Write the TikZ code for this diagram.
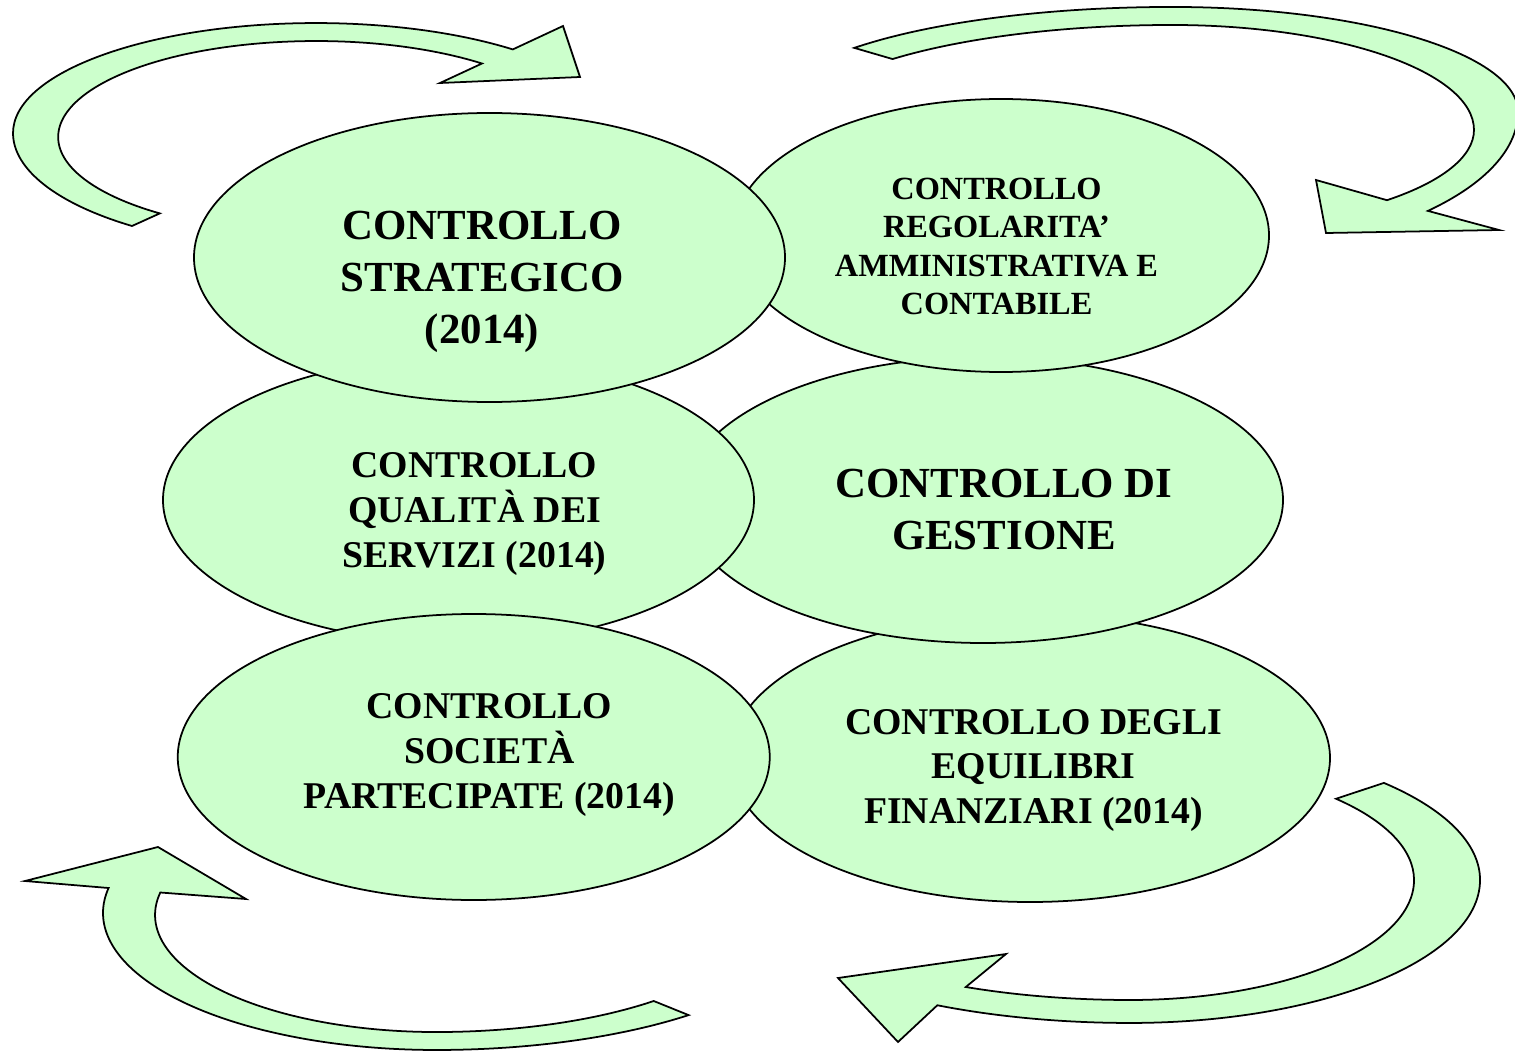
\documentclass[tikz,border=0pt]{standalone}
\usepackage{fontspec}
\setmainfont{Liberation Serif}
\definecolor{verdino}{HTML}{CCFFCC}
\tikzset{
  bolla/.style={fill=verdino,draw=black,line width=0.5pt},
  freccia/.style={fill=verdino,draw=black,line width=0.5pt},
  testo/.style={align=center,inner sep=0pt},
  grande/.style={font=\bfseries\fontsize{12.2}{14.8}\selectfont},
  medio/.style={font=\bfseries\fontsize{10.75}{12.8}\selectfont},
  piccolo/.style={font=\bfseries\fontsize{9.2}{10.95}\selectfont}
}
\begin{document}
\begin{tikzpicture}
\useasboundingbox (0,0) rectangle (15.15,-10.51);

% frecce
\filldraw[freccia] (1.32,-2.26) arc[start angle=232.6,end angle=180,x radius=3.03,y radius=1.17]
  arc[start angle=180,end angle=49.5,x radius=3.03,y radius=1.10]
  -- (5.63,-0.26) -- (5.80,-0.77) -- (4.40,-0.83) -- (4.82,-0.635)
  arc[start angle=50,end angle=232.7,x radius=2.58,y radius=0.96] -- cycle;

\filldraw[freccia] (8.543,-0.479) arc[start angle=142.4,end angle=90,x radius=4.01,y radius=1.05]
  arc[start angle=90,end angle=0,x radius=3.46,y radius=1.05]
  arc[start angle=0,end angle=-42.3,x radius=3.46,y radius=1.47]
  -- (14.99,-2.30) -- (13.26,-2.33) -- (13.16,-1.80) -- (13.87,-2.002)
  arc[start angle=-44.6,end angle=0,x radius=3.02,y radius=1.00]
  arc[start angle=0,end angle=90,x radius=3.02,y radius=1.05]
  arc[start angle=90,end angle=137.5,x radius=3.79,y radius=1.05] -- cycle;

\filldraw[freccia] (13.839,-7.829) arc[start angle=43.5,end angle=0,x radius=3.50,y radius=1.41]
  arc[start angle=0,end angle=-90,x radius=3.50,y radius=1.43]
  arc[start angle=-90,end angle=-118.8,x radius=4.00,y radius=1.43]
  -- (8.98,-10.42) -- (8.38,-9.78) -- (10.06,-9.54) -- (9.658,-9.870)
  arc[start angle=-116.9,end angle=-90,x radius=3.63,y radius=1.20]
  arc[start angle=-90,end angle=0,x radius=2.84,y radius=1.20]
  arc[start angle=0,end angle=43.5,x radius=2.84,y radius=1.18] -- cycle;

\filldraw[freccia] (6.886,-10.151) arc[start angle=-48.2,end angle=-90,x radius=3.79,y radius=1.37]
  arc[start angle=-90,end angle=-190.5,x radius=3.33,y radius=1.37]
  -- (0.25,-8.81) -- (1.58,-8.47) -- (2.46,-8.99) -- (1.603,-8.925)
  arc[start angle=-191.1,end angle=-90,x radius=2.81,y radius=1.17]
  arc[start angle=-90,end angle=-47.3,x radius=3.21,y radius=1.17] -- cycle;

% ellissi
\filldraw[bolla] (10.30,-7.58) ellipse[x radius=3.00,y radius=1.44];
\filldraw[bolla] (9.83,-5.00) ellipse[x radius=3.00,y radius=1.43];
\filldraw[bolla] (10.01,-2.355) ellipse[x radius=2.68,y radius=1.365];
\filldraw[bolla] (4.585,-5.00) ellipse[x radius=2.955,y radius=1.43];
\filldraw[bolla] (4.895,-2.575) ellipse[x radius=2.955,y radius=1.445];
\filldraw[bolla] (4.7375,-7.57) ellipse[x radius=2.96,y radius=1.43];

% testi
\node[testo,grande] (strategico) at (4.82,-2.82) {CONTROLLO\\STRATEGICO\\(2014)};
\node[testo,piccolo] (regolarita) at (9.965,-2.465) {CONTROLLO\\REGOLARITA’\\AMMINISTRATIVA E\\CONTABILE};
\node[testo,medio] (qualita) at (4.745,-5.14) {CONTROLLO\\QUALITÀ DEI\\SERVIZI (2014)};
\node[testo,grande] (gestione) at (10.04,-5.095) {CONTROLLO DI\\GESTIONE};
\node[testo,medio] (societa) at (4.895,-7.55) {CONTROLLO\\SOCIETÀ\\PARTECIPATE (2014)};
\node[testo,medio] (equilibri) at (10.335,-7.705) {CONTROLLO DEGLI\\EQUILIBRI\\FINANZIARI (2014)};
\end{tikzpicture}
\end{document}
